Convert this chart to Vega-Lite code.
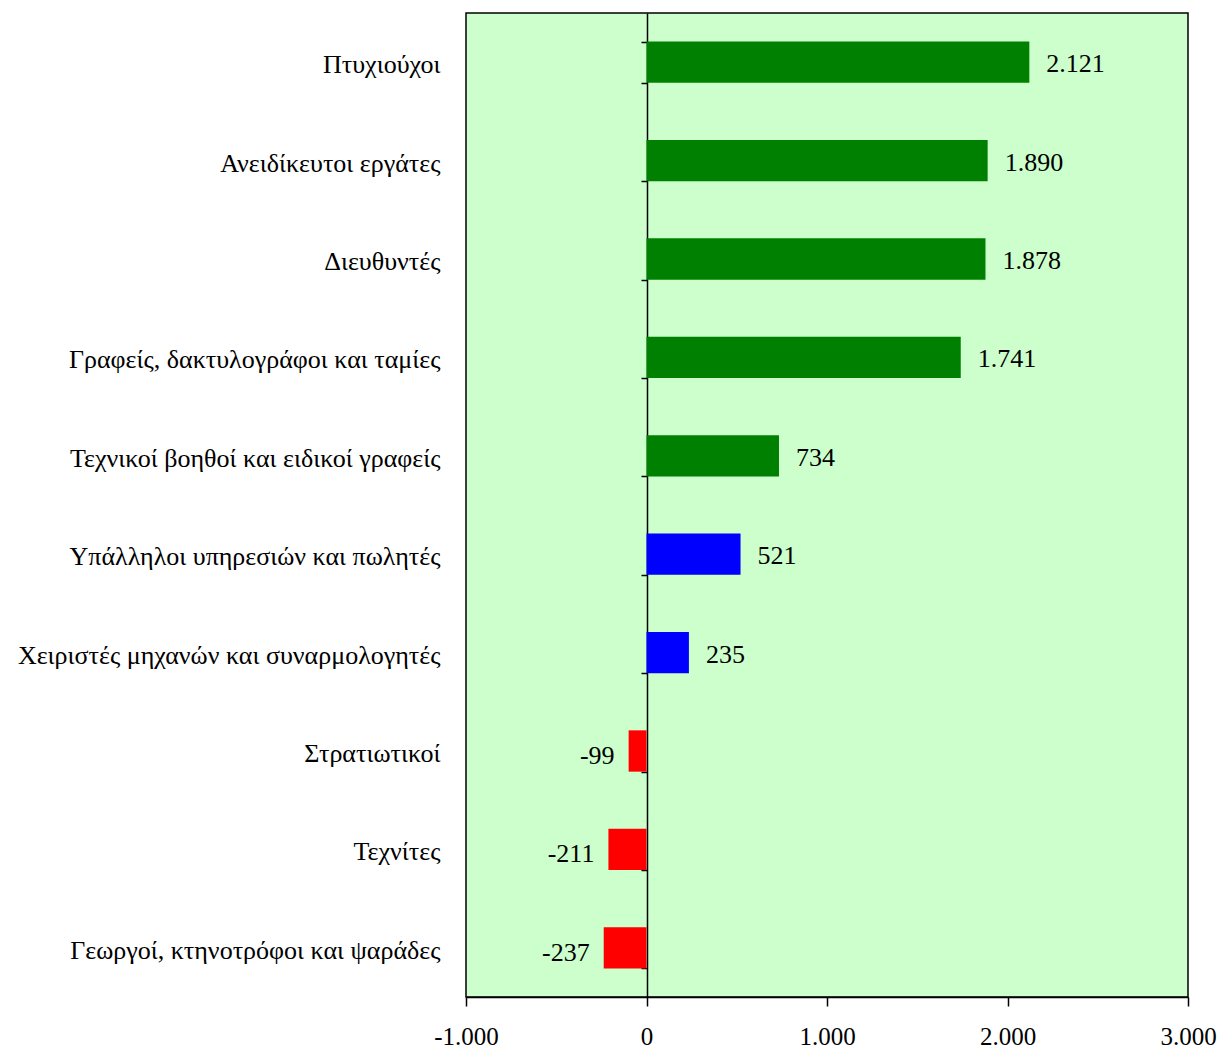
{
  "$schema": "https://vega.github.io/schema/vega-lite/v6.json",
  "autosize": {"type": "none"},
  "padding": {"left": 466, "top": 13, "right": 37, "bottom": 53},
  "width": 722,
  "height": 984,
  "background": "white",
  "config": {
    "locale": {"number": {"decimal": ",", "thousands": ".", "grouping": [3], "currency": ["", " €"], "minus": "-"}},
    "view": {"stroke": "black", "strokeWidth": 1.5, "fill": "#ccffcc"},
    "font": "Liberation Serif",
    "axis": {"labelFont": "Liberation Serif", "labelColor": "black", "grid": false}
  },
  "data": {"values": [
    {"category": "Πτυχιούχοι", "value": 2121, "group": "high"},
    {"category": "Ανειδίκευτοι εργάτες", "value": 1890, "group": "high"},
    {"category": "Διευθυντές", "value": 1878, "group": "high"},
    {"category": "Γραφείς, δακτυλογράφοι και ταμίες", "value": 1741, "group": "high"},
    {"category": "Τεχνικοί βοηθοί και ειδικοί γραφείς", "value": 734, "group": "high"},
    {"category": "Υπάλληλοι υπηρεσιών και πωλητές", "value": 521, "group": "medium"},
    {"category": "Χειριστές μηχανών και συναρμολογητές", "value": 235, "group": "medium"},
    {"category": "Στρατιωτικοί", "value": -99, "group": "negative"},
    {"category": "Τεχνίτες", "value": -211, "group": "negative"},
    {"category": "Γεωργοί, κτηνοτρόφοι και ψαράδες", "value": -237, "group": "negative"}
  ]},
  "layer": [
    {
      "mark": {"type": "bar", "stroke": null},
      "encoding": {
        "y": {
          "field": "category", "type": "nominal", "sort": null,
          "scale": {"paddingInner": 0.58, "paddingOuter": 0.29},
          "axis": {"title": null, "orient": "left", "domain": false, "ticks": false, "labelPadding": 26, "labelOffset": 3, "labelFontSize": 26, "labelLimit": 0}
        },
        "x": {
          "field": "value", "type": "quantitative",
          "scale": {"domain": [-1000, 3000], "nice": false},
          "axis": {"title": null, "values": [-1000, 0, 1000, 2000, 3000], "format": ",d", "domainColor": "black", "domainWidth": 1.5, "tickColor": "black", "tickWidth": 1.5, "tickSize": 9, "labelFontSize": 25, "labelPadding": 18, "labelFlush": false}
        },
        "color": {
          "field": "group", "type": "nominal", "legend": null,
          "scale": {"domain": ["high", "medium", "negative"], "range": ["#008000", "#0000ff", "#ff0000"]}
        }
      }
    },
    {
      "transform": [{"filter": "datum.value >= 0"}],
      "mark": {"type": "text", "align": "left", "baseline": "middle", "dx": 17, "dy": 2, "fontSize": 26, "font": "Liberation Serif", "color": "black"},
      "encoding": {
        "y": {
          "field": "category", "type": "nominal", "sort": null,
          "axis": {"title": null, "orient": "left", "offset": -181, "labels": false, "domain": true, "domainColor": "black", "domainWidth": 1.5, "ticks": true, "tickBand": "extent", "tickColor": "black", "tickWidth": 1.5, "tickSize": 6}
        },
        "x": {"field": "value", "type": "quantitative"},
        "text": {"field": "value", "type": "quantitative", "format": ",d"}
      }
    },
    {
      "transform": [{"filter": "datum.value < 0"}],
      "mark": {"type": "text", "align": "right", "baseline": "middle", "dx": -14, "dy": 5, "fontSize": 26, "font": "Liberation Serif", "color": "black"},
      "encoding": {
        "y": {"field": "category", "type": "nominal", "sort": null, "axis": null},
        "x": {"field": "value", "type": "quantitative"},
        "text": {"field": "value", "type": "quantitative", "format": ",d"}
      }
    }
  ],
  "resolve": {"axis": {"y": "independent"}}
}
